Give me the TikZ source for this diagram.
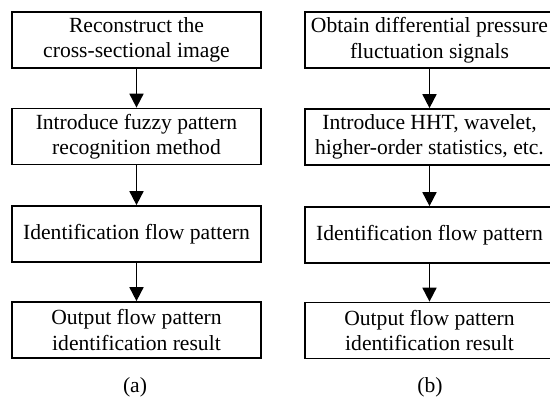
\documentclass[tikz,border=0pt]{standalone}
\usepackage{fontspec}
\setmainfont{Liberation Serif}
\usetikzlibrary{arrows.meta}
\begin{document}
\begin{tikzpicture}[x=1pt,y=-1pt,
  stepbox/.style={draw, line width=1.7pt, minimum width=249pt, minimum height=56pt,
    inner sep=0pt, align=center, font=\fontsize{21.6}{25.5}\selectfont},
  flowarrow/.style={line width=1.7pt, -{Triangle[width=14pt,length=14pt]}},
  caption/.style={font=\fontsize{21.6}{25.5}\selectfont}]
\useasboundingbox (0,0) rectangle (550,405);
% left column
\node[stepbox] (a1) at (136.5,40) {Reconstruct the\\cross-sectional image};
\node[stepbox] (a2) at (136.5,136.5) {Introduce fuzzy pattern\\recognition method};
\node[stepbox] (a3) at (136.5,234) {Identification flow pattern};
\node[stepbox] (a4) at (136.5,330) {Output flow pattern\\identification result};
\node[caption] (la) at (135,387) {(a)};
% right column
\node[stepbox] (b1) at (429.5,40) {Obtain differential pressure\\fluctuation signals};
\node[stepbox] (b2) at (429.5,137) {Introduce HHT, wavelet,\\higher-order statistics, etc.};
\node[stepbox] (b3) at (429.5,235) {Identification flow pattern};
\node[stepbox] (b4) at (429.5,330.5) {Output flow pattern\\identification result};
\node[caption] (lb) at (430,387) {(b)};
% arrows
\draw[flowarrow] (a1.south) -- (a2.north);
\draw[flowarrow] (a2.south) -- (a3.north);
\draw[flowarrow] (a3.south) -- (a4.north);
\draw[flowarrow] (b1.south) -- (b2.north);
\draw[flowarrow] (b2.south) -- (b3.north);
\draw[flowarrow] (b3.south) -- (b4.north);
\end{tikzpicture}
\end{document}
